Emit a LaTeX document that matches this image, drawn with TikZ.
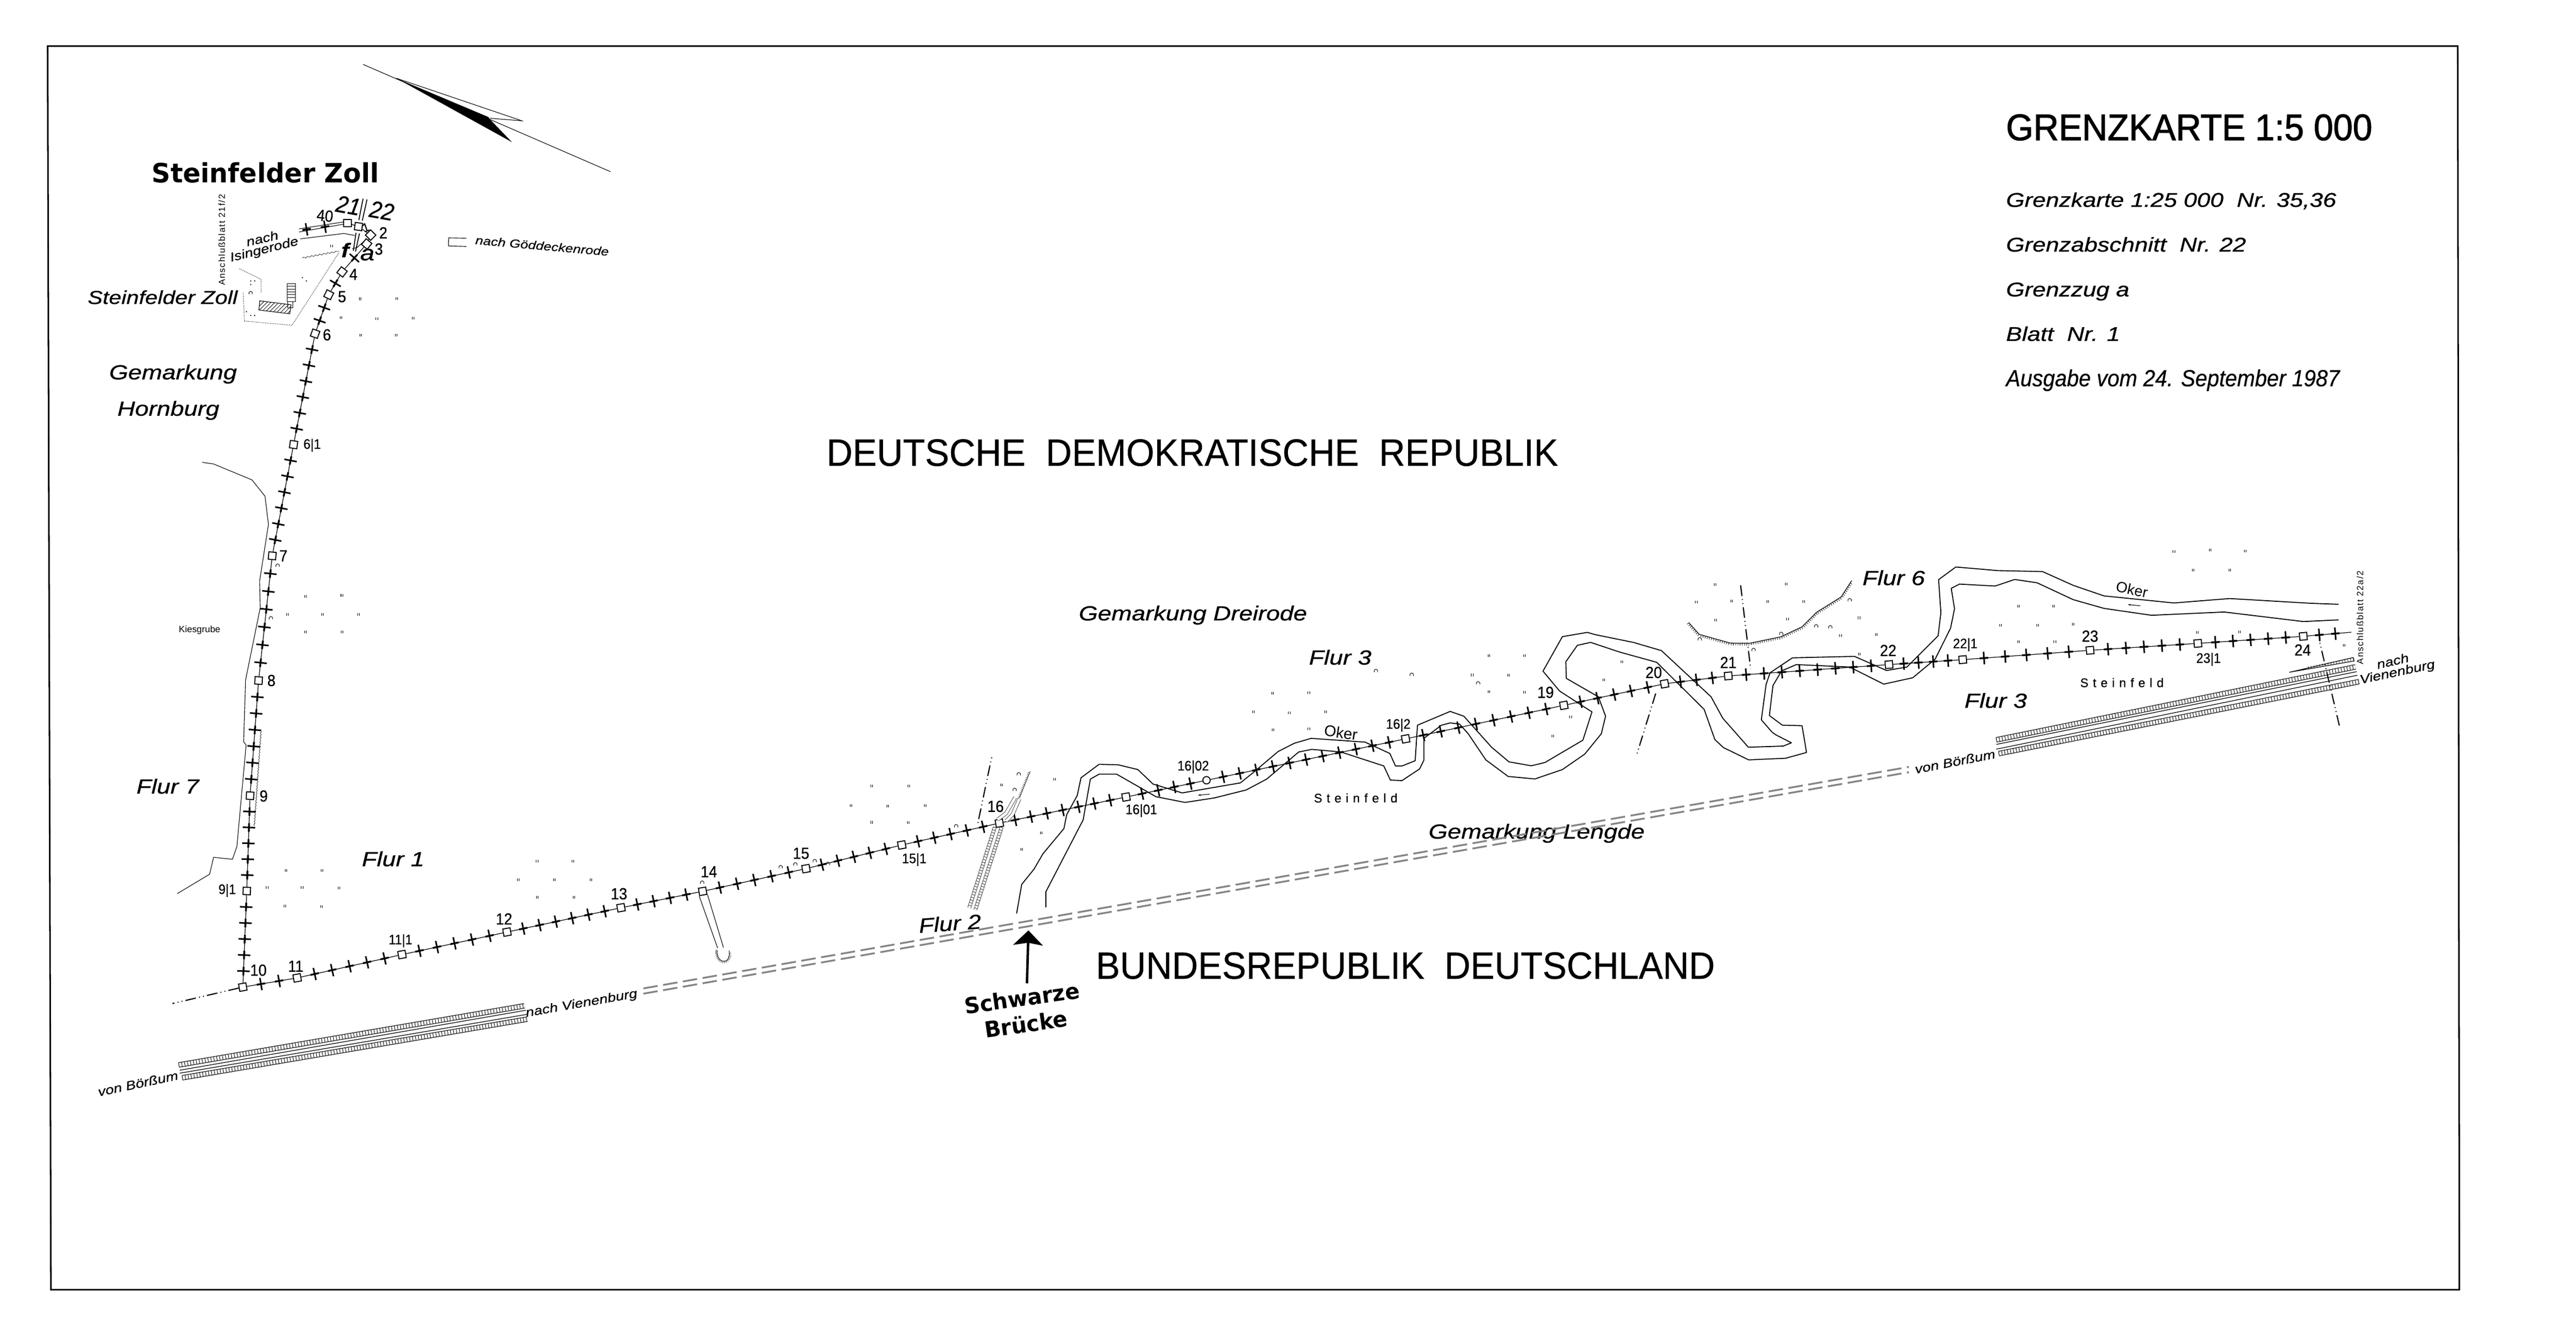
\documentclass[tikz,border=0pt]{standalone}
\usepackage{fontspec}
\setmainfont{Liberation Sans}
\newfontfamily\kartenfont[FakeStretch=1.2,FakeBold=.7]{Liberation Sans}
\newfontfamily\capsfont[FakeStretch=.95,FakeBold=.5]{Liberation Sans}
\newfontfamily\titelfont[FakeStretch=.95,FakeBold=1.6]{Liberation Sans}
\newfontfamily\zollfont[FakeStretch=.98]{DejaVu Sans}
\newfontfamily\sperrfont[LetterSpace=35,FakeBold=.4]{Liberation Sans}
\newfontfamily\randfont[LetterSpace=10]{Liberation Sans}
\newfontfamily\ziffernfont[FakeStretch=.92,FakeBold=.5]{Liberation Sans}
\usetikzlibrary{calc,arrows.meta,patterns.meta,decorations.pathmorphing,decorations.pathreplacing}
\newcommand{\fs}[1]{\fontsize{#1mm}{#1mm}\selectfont}
\tikzset{
    stone/.style={draw, rectangle, fill=white, minimum size=4.5mm, inner sep=0pt, line width=.6mm,
        path picture={\fill (path picture bounding box.center) circle (.32mm);}},
    roundstone/.style={stone, circle},
    grenzlinie/.style={line width=.4mm},
    kreuzquer/.style={line width=.95mm},
    kreuzlang/.style={line width=1.1mm},
    bank/.style={line width=.58mm, line join=round},
    thinline/.style={line width=.35mm},
    flurgrenze/.style={line width=.7mm, dash pattern=on 6.5mm off 1.9mm on .5mm off 2mm on .5mm off 2mm},
    graurail/.style={line width=1.1mm, black!48, dash pattern=on 8.8mm off 3.4mm},
    bandrand/.style={line width=.38mm, double, double distance=2.4mm},
    bandsteg/.style={line width=2.4mm, dash pattern=on .3mm off 1.5mm},
    roadrand/.style={line width=.22mm, double, double distance=1.7mm},
    roadsteg/.style={line width=1.7mm, dash pattern=on .22mm off 1.5mm},
    gleis/.style={line width=.4mm},
    gras/.style={line width=.32mm},
    busch/.style={line width=.3mm},
    hang/.style={line width=.4mm, postaction={draw, line width=.26mm, decorate,
        decoration={border, segment length=1.35mm, amplitude=1.4mm, angle=-90}}},
    nr/.style={inner sep=0pt, font=\ziffernfont\fs{9.8}},
    nrsmall/.style={inner sep=0pt, font=\ziffernfont\fs{8.4}},
    flur/.style={inner sep=0pt, anchor=base west, font=\kartenfont\itshape\fs{12.4}},
    headline/.style={inner sep=0pt, anchor=base west, font=\kartenfont\itshape\fs{12.1}},
    staat/.style={inner sep=0pt, anchor=base west, font=\capsfont},
    ortklein/.style={inner sep=0pt, font=\kartenfont\itshape\fs{7.6}},
    ortsperr/.style={inner sep=0pt, anchor=base west, font=\sperrfont\fs{7.6}},
    randtext/.style={inner sep=0pt, rotate=90, font=\randfont\fs{5.4}},
    zolltext/.style={inner sep=0pt, font=\zollfont\bfseries}
}
% ticks of the frontier
\newcommand{\kreuz}[2]{
    \draw[kreuzquer] ($(#1)!3.8mm!90:(#2)$) -- ($(#1)!3.8mm!-90:(#2)$);
    \draw[kreuzlang] ($(#1)!2.6mm!(#2)$) -- ($(#1)!-2.6mm!(#2)$);
}
\newcommand{\grenze}[3]{
    \draw[grenzlinie] (#1) -- (#2);
    \foreach \i in {1,...,#3}{
        \coordinate (kp) at ($(#1)!{\i/(#3+1)}!(#2)$);
        \kreuz{kp}{#2}
    }
}
\newcommand{\band}[2]{
    \draw[bandrand] (#1) -- (#2);
    \draw[bandsteg] (#1) -- (#2);
}
\begin{document}
\begin{tikzpicture}[x=1mm,y=-1mm]
    \useasboundingbox (0,0) rectangle (1568,813);
    \draw[line width=.95mm] (29,28) -- (1496,28) -- (1497,785) -- (31,785) -- cycle;

    % north arrow
    \coordinate (na) at (221,39.2);
    \coordinate (nb) at (371.6,104.5);
    \draw[thinline] (na) -- (nb);
    \fill (241.2,47.6) -- (297.2,71.2) -- (298.3,72.7) -- (311.6,86.5) -- cycle;
    \draw[thinline] (241.2,47.6) -- (317.6,73.5) -- (298.3,72);

    % texts
    \node[inner sep=0pt, anchor=base west, font=\titelfont\fs{22.5}] (titel) at (1221,85.3) {GRENZKARTE 1:5 000};
    \node[headline] (info1) at (1221,125.9) {Grenzkarte 1:25 000~~Nr. 35,36};
    \node[headline] (info2) at (1221,153.1) {Grenzabschnitt~~Nr. 22};
    \node[headline] (info3) at (1221,180.4) {Grenzzug a};
    \node[headline] (info4) at (1221,207.5) {Blatt~~Nr. 1};
    \node[inner sep=0pt, anchor=base west, font=\ziffernfont\itshape\fs{14.2}] (info5) at (1221,235.1) {Ausgabe vom 24. September 1987};
    \node[staat, font=\capsfont\fs{23.2}] (ddr) at (503,283.5) {DEUTSCHE~~DEMOKRATISCHE~~REPUBLIK};
    \node[staat, font=\capsfont\fs{23.1}] (brd) at (667,595.7) {BUNDESREPUBLIK~~DEUTSCHLAND};
    \node[zolltext, anchor=base west, font=\zollfont\bfseries\fs{16.2}] (zoll) at (92.3,111.1) {Steinfelder Zoll};
    \node[flur, font=\kartenfont\itshape\fs{11.4}] (zollb) at (53.3,185) {Steinfelder Zoll};
    \node[flur] (gem1) at (66.4,230.9) {Gemarkung};
    \node[flur] (gem2) at (71.4,253) {Hornburg};
    \node[flur] (flur7) at (83,483) {Flur 7};
    \node[flur] (flur1) at (220.2,527.2) {Flur 1};
    \node[flur, rotate=4] (flur2) at (559.5,567.8) {Flur 2};
    \node[flur] (flur3a) at (796.7,404.5) {Flur 3};
    \node[flur] (flur3b) at (1195.7,430.8) {Flur 3};
    \node[flur] (flur6) at (1133.6,356.1) {Flur 6};
    \node[flur] (gemdrei) at (656.6,377.6) {Gemarkung Dreirode};
    \node[flur] (gemleng) at (869.5,510.4) {Gemarkung Lengde};
    \node[ortsperr] (stein1) at (799.7,488.4) {Steinfeld};
    \node[ortsperr] (stein2) at (1266.1,418.2) {Steinfeld};
    \node[inner sep=0pt, rotate=-8, font=\fs{9.4}] (oker1) at (816.2,445.9) {Oker};
    \node[inner sep=0pt, rotate=-12, font=\fs{9}] (oker2) at (1297.7,358.7) {Oker};
    \node[inner sep=0pt, font=\fs{5.6}] (kies) at (121.5,383.5) {Kiesgrube};
    \node[ortklein, rotate=13] (isi1) at (159.6,145.1) {nach};
    \node[ortklein, rotate=14] (isi2) at (160.9,152.2) {Isingerode};
    \node[ortklein, rotate=-5, font=\kartenfont\itshape\fs{7.1}] (goedde) at (330,149.6) {nach Göddeckenrode};
    \node[randtext] (rand1) at (135,146) {Anschlußblatt 21f/2};
    \node[randtext] (rand2) at (1436.5,375.8) {Anschlußblatt 22a/2};
    \node[ortklein, rotate=12] (boer1) at (84,659.5) {von Börßum};
    \node[ortklein, rotate=11] (boer2) at (1190,463.5) {von Börßum};
    \node[ortklein, rotate=10] (vien1) at (354,611) {nach Vienenburg};
    \node[ortklein, rotate=13] (vien2) at (1456.4,402.3) {nach};
    \node[ortklein, rotate=12] (vien3) at (1459.3,409.5) {Vienenburg};
    \node[zolltext, rotate=8, font=\zollfont\bfseries\fs{13.4}] (schw) at (622,607.5) {Schwarze};
    \node[zolltext, rotate=8, font=\zollfont\bfseries\fs{13.4}] (brue) at (624.5,623.2) {Brücke};

    % railway
    \coordinate (ga1) at (391.6,601.6);
    \coordinate (gb1) at (1161.9,466.8);
    \coordinate (ga2) at (391.6,604.8);
    \coordinate (gb2) at (1161.9,470);
    \draw[graurail] (ga1) -- (gb1);
    \draw[graurail] (ga2) -- (gb2);
    \coordinate (la1) at (108.8,648.2);
    \coordinate (la2) at (319.2,612.2);
    \coordinate (la3) at (110.9,656);
    \coordinate (la4) at (321,620.3);
    \band{la1}{la2}
    \band{la3}{la4}
    \draw[gleis] (109.4,651.4) -- (320.1,614.9) (109.4,653.2) -- (320.7,617.4);
    \coordinate (ra1) at (1215.1,450.3);
    \coordinate (ra2) at (1433.8,405.9);
    \coordinate (ra3) at (1216.6,458.7);
    \coordinate (ra4) at (1435.9,414.9);
    \band{ra1}{ra2}
    \band{ra3}{ra4}
    \draw[gleis] (1215.1,453.1) -- (1434.5,408.8) (1215.1,456) -- (1434.9,411);
    \draw[gleis] (1393.4,409.2) -- (1432.4,400.2) -- (1432.9,402.3) -- cycle;
    \draw[line width=1.4mm, dash pattern=on .24mm off 1.5mm] (1405,406.3) -- (1432.6,401.2);

    % river
    \draw[bank] (618.8,556) -- (621.9,538.3) -- (629.4,529) -- (634.8,519.7) -- (647.6,504.3) -- (649.3,495.8) -- (655.7,484.2)
        -- (658,473.4) -- (669,465.2) -- (680.6,465.5) -- (692.6,468.4) -- (701.8,477.2) -- (719.6,482.6) -- (755,476.5)
        -- (763,470.1) -- (778,457.4) -- (787.8,452.4) -- (798.1,449.4) -- (830.9,451.7) -- (846,458.6) -- (849.4,466.2)
        -- (853.4,466.2) -- (861.4,463) -- (862.8,441.4) -- (882.7,433) -- (891,435.9) -- (907.9,454.8) -- (918.5,463.7)
        -- (932.1,466.1) -- (940.4,464.1) -- (963.5,450.5) -- (969,433.3) -- (949.3,420.6) -- (939.2,408.5) -- (951,387.5)
        -- (966.2,384.9) -- (971.1,386.3) -- (994.2,391) -- (1011.3,396) -- (1041.5,424.1) -- (1048.6,437.1) -- (1064.2,454.8)
        -- (1085.5,454.1) -- (1090.4,452.1) -- (1081,447.3) -- (1078.6,445.6) -- (1072.1,438.1) -- (1075,416.6) -- (1077.4,409.5)
        -- (1091,400.4) -- (1128.8,399.5) -- (1148.3,408.1) -- (1160.7,406) -- (1179.7,387) -- (1181.4,372.9) -- (1180,352.8)
        -- (1190.5,345.1) -- (1216.1,347.3) -- (1243.3,347.9) -- (1262,356.3) -- (1280.7,362.7) -- (1323.2,367) -- (1357.2,364.3)
        -- (1406.5,367.2) -- (1423.5,367.8);
    \draw[bank] (636.6,552.2) -- (636.6,542.8) -- (659.3,499) -- (663.7,474.2) -- (669,471.2) -- (679.7,471.2) -- (703.6,484.9)
        -- (721.3,488.4) -- (739,485.7) -- (758.6,480.8) -- (771,474.2) -- (782.5,464.5) -- (790.5,457.7) -- (798.5,456.1)
        -- (816.2,457.7) -- (842.3,466.2) -- (846.3,474.8) -- (853.4,475.1) -- (864.1,468) -- (866.7,462.7) -- (866.7,449.4)
        -- (877.4,441.4) -- (882.7,440) -- (888.4,440.7) -- (893.7,446.6) -- (904.4,462.5) -- (918,472.6) -- (934.3,474.1)
        -- (951,468.4) -- (964.6,459) -- (974.7,446.6) -- (977.3,435.9) -- (972.9,424.1) -- (953.4,412.9) -- (953.1,402.8)
        -- (960.1,392.8) -- (968.2,391) -- (985.9,396.9) -- (1008.4,403.1) -- (1037.3,431.8) -- (1043.8,450.1) -- (1049,455)
        -- (1064.4,462.5) -- (1086.9,461.5) -- (1099.6,458) -- (1096.9,441.7) -- (1084.9,441.4) -- (1077,435.5) -- (1079.2,417.2)
        -- (1084.5,408.3) -- (1093.4,404.5) -- (1125.9,406) -- (1146.6,416.4) -- (1164.3,412.5) -- (1177.9,401.2) -- (1187.3,382.3)
        -- (1189.7,370.5) -- (1187.7,358.1) -- (1192.7,355.5) -- (1214.4,356.7) -- (1226.3,352.7) -- (1239.9,354.7) -- (1262,365)
        -- (1280.7,370.3) -- (1309.6,374.5) -- (1353.8,372.5) -- (1402,378.3) -- (1423.5,377.3);
    \draw[-{Stealth[length=1.6mm,width=1.2mm]}, thinline] (736.4,483.4) -- (729.3,484);
    \draw[-{Stealth[length=1.6mm,width=1.2mm]}, thinline] (1302.8,368.7) -- (1295.3,368);

    % Kiesgrube and other thin lines
    \draw[thinline] (107.9,543.9) -- (127.6,532.1) -- (130,521.8) -- (141.5,523) -- (144.2,515.2) -- (149.8,453.5) -- (148.3,451.4)
        -- (149.5,413.8) -- (158.4,369.9) -- (158,353.8) -- (163.4,319.2) -- (161.3,302) -- (153.4,292.1) -- (130,282.4) -- (123.1,281.4);
    \draw[line width=.2mm, decorate, decoration={snake, amplitude=.3mm, segment length=1.8mm}] (158.9,444.8) -- (154.8,502.7);

    % stones
    \node[stone] (s40) at (211.5,135.8) {};
    \node[stone, rotate=-8] (sb) at (218.2,137.9) {};
    \node[stone, rotate=-45] (s2) at (225.6,143.1) {};
    \node[stone, rotate=-39] (s3) at (223.2,148.5) {};
    \node[stone, rotate=-38] (s4) at (208.2,165.5) {};
    \node[stone, rotate=-26] (s5) at (200.1,179.4) {};
    \node[stone, rotate=-20] (s6) at (191.8,203.1) {};
    \node[stone, rotate=-8] (s61) at (178.7,270.6) {};
    \node[stone, rotate=-5] (s7) at (165.7,338.3) {};
    \node[stone, rotate=-4] (s8) at (157.4,414.2) {};
    \node[stone, rotate=-3] (s9) at (152.2,484.3) {};
    \node[stone, rotate=-2] (s91) at (150.2,542.3) {};
    \node[stone, rotate=10] (s10) at (147.8,600.8) {};
    \node[stone, rotate=10] (s11) at (180.9,595.2) {};
    \node[stone, rotate=10] (s111) at (244.7,581) {};
    \node[stone, rotate=10] (s12) at (308.6,567.3) {};
    \node[stone, rotate=10] (s13) at (378,552.5) {};
    \node[stone, rotate=10] (s14) at (427.7,542.5) {};
    \node[stone, rotate=10] (s15) at (490.6,528.7) {};
    \node[stone, rotate=10] (s151) at (548.9,514.3) {};
    \node[stone, rotate=10] (s16) at (608.3,501) {};
    \node[stone, rotate=10] (s1601) at (685.4,485.1) {};
    \node[roundstone] (s1602) at (734.4,474.9) {};
    \node[stone, rotate=10] (s162) at (855.6,449.7) {};
    \node[stone, rotate=10] (s19) at (951.9,429.3) {};
    \node[stone, rotate=10] (s20) at (1013.2,416.2) {};
    \node[stone, rotate=5] (s21) at (1052,411.4) {};
    \node[stone, rotate=5] (s22) at (1149.8,404.5) {};
    \node[stone, rotate=5] (s221) at (1194.7,401.5) {};
    \node[stone, rotate=5] (s23) at (1272.2,395.8) {};
    \node[stone, rotate=5] (s231) at (1337.8,391.6) {};
    \node[stone, rotate=5] (s24) at (1402,387.3) {};
    \coordinate (send) at (1431.2,384.8);

    % frontier
    \draw[grenzlinie] (sb) -- (s2);
    \draw[grenzlinie] (s2) -- (s3);
    \draw[grenzlinie] (s40) -- (sb);
    \grenze{s3}{s4}{1}
    \grenze{s4}{s5}{1}
    \grenze{s5}{s6}{2}
    \grenze{s6}{s61}{6}
    \grenze{s61}{s7}{6}
    \grenze{s7}{s8}{6}
    \grenze{s8}{s9}{6}
    \grenze{s9}{s91}{5}
    \grenze{s91}{s10}{5}
    \grenze{s10}{s11}{2}
    \grenze{s11}{s111}{5}
    \grenze{s111}{s12}{5}
    \grenze{s12}{s13}{6}
    \grenze{s13}{s14}{4}
    \grenze{s14}{s15}{5}
    \grenze{s15}{s151}{5}
    \grenze{s151}{s16}{5}
    \grenze{s16}{s1601}{7}
    \grenze{s1601}{s1602}{4}
    \grenze{s1602}{s162}{11}
    \grenze{s162}{s19}{8}
    \grenze{s19}{s20}{5}
    \grenze{s20}{s21}{3}
    \grenze{s21}{s22}{8}
    \grenze{s22}{s221}{4}
    \grenze{s221}{s23}{5}
    \grenze{s23}{s231}{5}
    \grenze{s231}{s24}{5}
    \grenze{s24}{send}{2}

    % top end at Steinfelder Zoll
    \coordinate (wa1) at (182,139.3);
    \coordinate (wa2) at (182,141.2);
    \coordinate (ka) at (186.6,139.6);
    \coordinate (kb) at (197.8,138);
    \draw[thinline] (wa1) -- (s40.165);
    \draw[thinline] (wa2) -- (s40.195);
    \kreuz{ka}{s40}
    \kreuz{kb}{s40}
    \draw[thinline] (182.7,145.4) -- (209.3,142.1) -- (215.9,143.3);
    \draw[line width=.55mm] (221,120.9) -- (218.4,134) (223.4,121.4) -- (220.5,134.4);
    \draw[line width=.55mm] (216.7,141.7) -- (215.1,152.6) (218.8,142.1) -- (216.4,153.1);
    \draw[thinline] (214.4,151.4) -- (217.4,150.6) -- (221.3,147.1);
    \draw[line width=.2mm, decorate, decoration={snake, amplitude=.35mm, segment length=2.5mm}] (184,157) -- (206.2,152.9);

    % site of the customs post
    \draw[thinline, pattern={Lines[angle=45,distance=1.7mm,line width=.25mm]}] (158.1,183.1) -- (177.2,185.5) -- (176.4,191) -- (157.6,188.7) -- cycle;
    \draw[line width=.2mm] (174.7,172.5) rectangle (179.7,183.6);
    \foreach \y in {174.2,175.9,...,182.5} \draw[line width=.2mm] (174.7,\y) -- (179.7,\y);
    \draw[line width=.2mm] (175.2,183.6) rectangle (178.2,187.3);
    \draw[line width=.35mm, dotted] (148.8,195.4) -- (177.7,198) -- (206.6,153.3);
    \draw[line width=.35mm, dotted] (145.8,163.6) -- (158.9,170) -- (159,178);
    \draw[line width=.35mm, dotted] (148.8,195.4) -- (148,178);
    \foreach \x/\y in {152.6/171,152.6/173.2,155/171,184/169,186.5/171,150/189.7,152.6/192,155/192}
        \fill (\x,\y) circle (.4mm);

    % side road at stone 16, road at stone 14
    \coordinate (ro1) at (605.5,503.5);
    \coordinate (ro2) at (590,552.5);
    \coordinate (ro3) at (609.7,503.5);
    \coordinate (ro4) at (593.7,553.7);
    \draw[roadrand] (ro1) -- (ro2);
    \draw[roadsteg] (ro1) -- (ro2);
    \draw[roadrand] (ro3) -- (ro4);
    \draw[roadsteg] (ro3) -- (ro4);
    \draw[roadrand] (607.2,498.9) -- (612.4,495) -- (617.9,485.4);
    \draw[roadrand] (612.4,499.7) -- (616.3,495.8) -- (620.5,486.2);
    \draw[line width=.22mm, postaction={draw, decorate, decoration={border, segment length=1.1mm, amplitude=1mm, angle=90}}] (620.5,485.8) -- (627.1,469.4);
    \coordinate (w14a) at (436.8,577);
    \coordinate (w14b) at (440.4,576.8);
    \draw[thinline] (s14.south west) -- (w14a);
    \draw[thinline] (s14.south east) -- (w14b);
    \draw[line width=.3mm, postaction={draw, line width=.2mm, decorate, decoration={border, segment length=.9mm, amplitude=1.2mm, angle=-90}}]
        (436.6,578.5) .. controls (435.5,586) and (445,588.5) .. (443.8,578.5);

    % parcel lines
    \coordinate (fa1) at (105,610.8);
    \draw[flurgrenze] (s10) -- (fa1);
    \coordinate (fb1) at (1412.1,391.3);
    \coordinate (fb2) at (1424.3,443.2);
    \draw[flurgrenze, dash phase=8.4mm] (fb1) -- (fb2);
    \coordinate (fc1) at (1007.8,422.1);
    \coordinate (fc2) at (996.3,459.2);
    \draw[flurgrenze] (fc1) -- (fc2);
    \coordinate (fd1) at (1059.5,356.3);
    \coordinate (fd2) at (1065.6,407.1);
    \draw[flurgrenze] (fd1) -- (fd2);
    \coordinate (fe1) at (603.6,461);
    \coordinate (fe2) at (595.1,501.6);
    \draw[flurgrenze, dash phase=8.4mm] (fe1) -- (fe2);
    \draw[thinline] (283.9,145) -- (273.1,144.8) -- (273,149.7) -- (283.9,150);

    % slope near Flur 6
    \draw[hang] (1028,379) -- (1034.3,386.1) -- (1053.2,391.4) -- (1065,391.5) -- (1083.9,387.6) -- (1096.9,381.5) -- (1105.8,372.6) -- (1120.6,363.4) -- (1127.1,353.4);

    % grass and bushes
    \foreach \x/\y in {201.8/149.8,219.2/181.9,241.4/181.7,207.6/193.3,229.4/193.9,251.6/193.6,219.6/204,241.2/204,
        185.9/363.1,208.1/362.5,174.9/374,196.2/374,218.3/374,186/384.6,208.2/384.6,
        174.1/529.9,196/529.9,162.6/540.3,183.9/540.3,206.3/540.5,173.5/551.6,195.7/551.8,
        326.9/524.1,348.8/524.1,315.6/535.4,337.5/535.4,359.7/535.4,327.2/546,349.3/546,
        530.5/478.3,553.2/478.4,518/490.4,540.3/490.5,563.3/490.4,530.5/500.5,552.8/500.6,
        609.7/477.7,642/474.2,633.7/507,621.9/516.9,
        774.5/421.9,796.7/421.6,763/433.3,784.8/433.8,806.8/433.3,774.9/444.1,796.7/443.7,
        906.3/399,928/399,896.1/410.8,918.2/411.1,906.4/420.9,928/421.2,956/436.5,945.1/448,987.1/402.8,976.2/413.8,
        1044/355.7,1087.3/355.6,1032.5/366.4,1054.1/365.8,1075.9/366,1097.9/366,1044.3/377.5,1088/376.8,
        1131.6/376,1120.3/386.7,1142.1/386.1,1131.8/398,
        1323.2/335.7,1345.3/334.8,1366.7/335.3,1335.1/347,1357.2/347,
        1228.7/369,1250.1/369,1217.8/380.5,1240.3/380.5,1262/379.9,1228.7/390.6,1250.8/390.6,
        1337.5/384.9,1363.3/384.5,1426.9/392.9}
        \draw[gras] (\x-.5,\y-.8) -- (\x-.5,\y+.8) (\x+.5,\y-.8) -- (\x+.5,\y+.8);
    \foreach \x/\y in {152.6/178.1,169/344,164.9/376,427.4/536.9,475.2/527.5,484.1/525.8,495.9/523.8,503.9/525.5,582/502.6,620.1/471,617.6/480.5,
        837.5/408.1,859.3/410.4,899.7/415.6,1034.6/388.8,1067.4/395.3,1084.2/385.5,1105.5/380.9,1114.1/381.5,1125.9/365}
        \draw[busch] (\x-1,\y+1) .. controls (\x-1.6,\y-1.4) and (\x+1.6,\y-1.4) .. (\x+1,\y+1);

    % numbers
    \node[nrsmall] (l61) at (190,271) {6|1};
    \node[nr] (l7) at (172.5,338.3) {7};
    \node[nr] (l8) at (165.2,414.2) {8};
    \node[nr] (l9) at (160.5,484.5) {9};
    \node[nrsmall] (l91) at (138.3,542) {9|1};
    \node[nr] (l10) at (157.3,590.5) {10};
    \node[nr] (l11) at (180,588.1) {11};
    \node[nrsmall] (l111) at (243.8,572.6) {11|1};
    \node[nr] (l12) at (306.8,559.3) {12};
    \node[nr] (l13) at (376.8,544) {13};
    \node[nr] (l14) at (431.5,530.6) {14};
    \node[nr] (l15) at (487.6,519.4) {15};
    \node[nrsmall] (l151) at (556.5,523.2) {15|1};
    \node[nr] (l16) at (606,490.8) {16};
    \node[nrsmall] (l1601) at (694.7,493.4) {16|01};
    \node[nrsmall] (l1602) at (726.3,466.8) {16|02};
    \node[nrsmall] (l162) at (851.1,441.4) {16|2};
    \node[nr] (l19) at (940.8,421.4) {19};
    \node[nr] (l20) at (1006.6,409.3) {20};
    \node[nr] (l21) at (1052,403.2) {21};
    \node[nr] (l22) at (1149.3,395.9) {22};
    \node[nrsmall] (l221) at (1196.2,392.4) {22|1};
    \node[nr] (l23) at (1272.2,387.2) {23};
    \node[nrsmall] (l231) at (1344.3,401.3) {23|1};
    \node[nr] (l24) at (1401.6,395.6) {24};
    \node[nr] (l4) at (215.1,167) {4};
    \node[nr] (l5) at (208.2,180.6) {5};
    \node[nr] (l6) at (199,203.8) {6};
    \node[nr] (l2) at (233.3,141.7) {2};
    \node[nr] (l3) at (230.6,151.6) {3};
    \node[nr, rotate=20, font=\ziffernfont\fs{7.5}] (l1) at (222.6,138.4) {1};
    \node[nr, rotate=-6] (l40) at (197.8,131.3) {40};
    \node[inner sep=0pt, rotate=-10, font=\ziffernfont\itshape\fs{14.5}] (l21g) at (212,125) {21};
    \node[inner sep=0pt, rotate=-10, font=\ziffernfont\itshape\fs{14.5}] (l22g) at (232.4,128.2) {22};
    \node[inner sep=0pt, font=\kartenfont\itshape\bfseries\fs{12}] (lf) at (210.1,152.2) {f};
    \node[inner sep=0pt, font=\kartenfont\itshape\fs{13}] (la) at (223.6,155) {a};

    % Schwarze Bruecke
    \coordinate (pf) at (626,566.3);
    \coordinate (pfu) at (625.1,598.5);
    \draw[line width=1.5mm, -{Stealth[length=9mm,width=18mm,inset=1.5mm]}] (pfu) -- (pf);
\end{tikzpicture}
\end{document}
